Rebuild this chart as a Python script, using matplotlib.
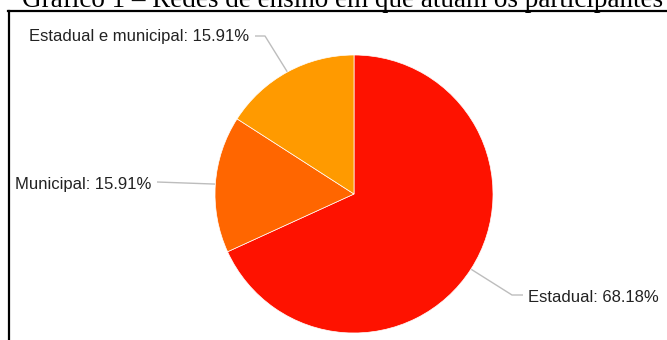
import matplotlib.pyplot as plt
from matplotlib.lines import Line2D
import numpy as np

# data
categorias = ['Estadual', 'Municipal', 'Estadual e municipal']
valores = [68.18, 15.91, 15.91]
cores = ['#FE1200', '#FF6600', '#FF9A00']
titulo = 'Gráfico 1 – Redes de ensino em que atuam os participantes'

W, H = 667, 340
fig = plt.figure(figsize=(W / 100, H / 100), dpi=100)
ax = fig.add_axes([0, 0, 1, 1])
ax.set_xlim(0, W)
ax.set_ylim(0, H)
ax.axis('off')

cx, cy, r = 354, H - 194, 139
wedges, _ = ax.pie(valores, colors=cores, startangle=90, counterclock=False,
                   center=(cx, cy), radius=r,
                   wedgeprops=dict(edgecolor='white', linewidth=0.5))
ax.set_xlim(0, W)
ax.set_ylim(0, H)
ax.set_aspect('auto')

# label layout (elbow and text positions, image px from top)
layout = {
    'Estadual': [(512, 295), (523, 295), (528, 297, 'left')],
    'Municipal': [(157, 182), (157, 182), (151, 184, 'right')],
    'Estadual e municipal': [(265, 36), (255, 36), (249, 36, 'right')],
}

for w, cat, v in zip(wedges, categorias, valores):
    ang = np.deg2rad((w.theta1 + w.theta2) / 2)
    x0 = cx + r * np.cos(ang)
    y0 = cy + r * np.sin(ang)
    (ex, ey), (hx, hy), (tx, ty, ha) = layout[cat]
    ax.plot([x0, ex, hx], [y0, H - ey, H - hy], color='#BDBDBD', lw=1.0,
            solid_capstyle='butt', zorder=0)
    ax.text(tx, H - ty, f'{cat}: {v:.2f}%', ha=ha, va='center',
            fontsize=12, family='Liberation Sans', color='#222222')

# frame and title (title is cut by the top edge, as in the source image)
fig.add_artist(Line2D([8 / W, 1], [1 - 11 / H, 1 - 11 / H], color='black', lw=1.6))
fig.add_artist(Line2D([9 / W, 9 / W], [0, 1 - 11 / H], color='black', lw=1.6))
fig.text(343 / W, 1 - 7 / H, titulo, ha='center', va='baseline',
         fontsize=19.5, family='Liberation Serif', color='black')

fig.savefig('out.png', dpi=100)
